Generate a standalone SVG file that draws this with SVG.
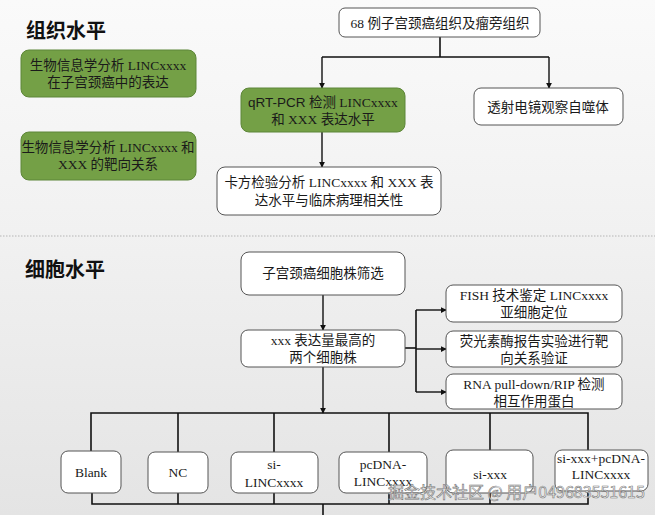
<svg xmlns="http://www.w3.org/2000/svg" width="655" height="515" viewBox="0 0 655 515">
<defs>
<linearGradient id="bg" x1="0" y1="0" x2="0" y2="1">
<stop offset="0" stop-color="#fafafa"/>
<stop offset="0.45" stop-color="#f1f1f1"/>
<stop offset="1" stop-color="#e4e4e4"/>
</linearGradient>
<marker id="ah" viewBox="0 0 8 8" refX="7" refY="4" markerWidth="6" markerHeight="6" markerUnits="userSpaceOnUse" orient="auto">
<path d="M0,0 L8,4 L0,8 z" fill="#111"/>
</marker>
<style>
.box{fill:#ffffff;stroke:#555;stroke-width:1}
.gbox{fill:#74a046;stroke:#5d8638;stroke-width:1}
.t{font-family:"Liberation Serif","Noto Sans CJK SC",serif;font-size:13.5px;fill:#1a1a1a;text-anchor:middle}
.ts{font-family:"Liberation Sans","Noto Sans CJK SC",sans-serif;font-size:13.5px;fill:#1a1a1a;text-anchor:middle}
.h{font-family:"Noto Sans CJK SC","Liberation Sans",sans-serif;font-size:20px;font-weight:bold;fill:#111}
.ln{fill:none;stroke:#111;stroke-width:1.6}
.la{fill:none;stroke:#111;stroke-width:1.4;marker-end:url(#ah)}
</style>
</defs>
<rect x="0" y="0" width="655" height="515" fill="url(#bg)"/>
<line x1="0" y1="236" x2="655" y2="236" stroke="#b5b5b5" stroke-width="1" stroke-dasharray="1.5,1.5"/>

<text class="h" x="26" y="38">组织水平</text>
<text class="h" x="25" y="277">细胞水平</text>

<g id="connectors">
<polyline class="ln" points="440,37 440,57"/>
<polyline class="ln" points="322,57 549,57"/>
<line class="la" x1="322" y1="57" x2="322" y2="88"/>
<line class="la" x1="549" y1="57" x2="549" y2="88"/>
<line class="la" x1="322" y1="132" x2="322" y2="167"/>
<line class="la" x1="323" y1="295" x2="323" y2="330"/>
<line class="la" x1="323" y1="367" x2="323" y2="413"/>
<polyline class="ln" points="405,348 416,348"/>
<polyline class="ln" points="416,310 416,392"/>
<line class="la" x1="416" y1="310" x2="446" y2="310"/>
<line class="la" x1="416" y1="349" x2="446" y2="349"/>
<line class="la" x1="416" y1="392" x2="446" y2="392"/>
<polyline class="ln" points="91,451 91,413 588,413 588,450"/>
<line class="ln" x1="178" y1="413" x2="178" y2="452"/>
<line class="ln" x1="274" y1="413" x2="274" y2="452"/>
<line class="ln" x1="389" y1="413" x2="389" y2="452"/>
<line class="ln" x1="490" y1="413" x2="490" y2="450"/>
<polyline class="ln" points="92,493 92,504 588,504 588,491"/>
<line class="ln" x1="178" y1="493" x2="178" y2="504"/>
<line class="ln" x1="274" y1="493" x2="274" y2="504"/>
<line class="ln" x1="389" y1="493" x2="389" y2="504"/>
<line class="ln" x1="490" y1="493" x2="490" y2="504"/>
<line class="ln" x1="323" y1="504" x2="323" y2="515"/>
</g>

<g id="bio1">
<rect class="gbox" x="21" y="50" width="175" height="47" rx="8"/>
<text class="t" x="108" y="70">生物信息学分析 LINCxxxx</text>
<text class="t" x="108" y="87">在子宫颈癌中的表达</text>
</g>
<g id="bio2">
<rect class="gbox" x="21" y="132" width="175" height="48" rx="8"/>
<text class="t" x="108" y="152">生物信息学分析 LINCxxxx 和</text>
<text class="t" x="108" y="169">XXX 的靶向关系</text>
</g>
<g id="tissue">
<rect class="box" x="339" y="8" width="201" height="29" rx="6"/>
<text class="t" x="440" y="27.5">68 例子宫颈癌组织及瘤旁组织</text>
</g>
<g id="qrt">
<rect class="gbox" x="241" y="88" width="164" height="44" rx="8"/>
<text class="t" x="323" y="107"><tspan font-family="Liberation Sans, sans-serif">qRT-PCR</tspan> 检测 LINCxxxx</text>
<text class="t" x="323" y="124">和 XXX 表达水平</text>
</g>
<g id="tem">
<rect class="box" x="474" y="88" width="149" height="37" rx="7"/>
<text class="t" x="548" y="111.5">透射电镜观察自噬体</text>
</g>
<g id="chi">
<rect class="box" x="217" y="167" width="224" height="48" rx="8"/>
<text class="t" x="329" y="187">卡方检验分析 LINCxxxx 和 XXX 表</text>
<text class="t" x="329" y="205">达水平与临床病理相关性</text>
</g>

<g id="screen">
<rect class="box" x="241" y="252" width="164" height="43" rx="8"/>
<text class="t" x="323" y="278">子宫颈癌细胞株筛选</text>
</g>
<g id="top2">
<rect class="box" x="241" y="330" width="164" height="37" rx="7"/>
<text class="t" x="323" y="345">xxx 表达量最高的</text>
<text class="t" x="323" y="362">两个细胞株</text>
</g>
<g id="fish">
<rect class="box" x="446" y="285" width="176" height="37" rx="7"/>
<text class="t" x="534" y="300">FISH 技术鉴定 LINCxxxx</text>
<text class="t" x="534" y="317">亚细胞定位</text>
</g>
<g id="luc">
<rect class="box" x="446" y="331" width="176" height="36" rx="7"/>
<text class="t" x="534" y="346">荧光素酶报告实验进行靶</text>
<text class="t" x="534" y="363">向关系验证</text>
</g>
<g id="rna">
<rect class="box" x="446" y="374" width="176" height="35" rx="7"/>
<text class="t" x="534" y="389">RNA pull-down/RIP 检测</text>
<text class="t" x="534" y="406">相互作用蛋白</text>
</g>

<g id="blank">
<rect class="box" x="61" y="451" width="60" height="42" rx="7"/>
<text class="t" x="91" y="477">Blank</text>
</g>
<g id="nc">
<rect class="box" x="148" y="452" width="60" height="41" rx="7"/>
<text class="t" x="178" y="477">NC</text>
</g>
<g id="silinc">
<rect class="box" x="231" y="452" width="87" height="41" rx="7"/>
<text class="t" x="274" y="469">si-</text>
<text class="t" x="274" y="487">LINCxxxx</text>
</g>
<g id="pcdna">
<rect class="box" x="339" y="452" width="88" height="41" rx="7"/>
<text class="t" x="383" y="469">pcDNA-</text>
<text class="t" x="383" y="486">LINCxxxx</text>
</g>
<g id="sixxx">
<rect class="box" x="446" y="450" width="87" height="43" rx="7"/>
<text class="t" x="490" y="479">si-xxx</text>
</g>
<g id="combo">
<rect class="box" x="555" y="450" width="93" height="41" rx="7"/>
<text class="t" x="601" y="463">si-xxx+pcDNA-</text>
<text class="t" x="601" y="479">LINCxxxx</text>
</g>

<text x="388" y="498" font-family="Noto Sans CJK SC, sans-serif" font-size="16" fill="#ffffff" fill-opacity="0.85" stroke="#777" stroke-width="0.6">掘金技术社区 @ 用户049683551615</text>
</svg>
